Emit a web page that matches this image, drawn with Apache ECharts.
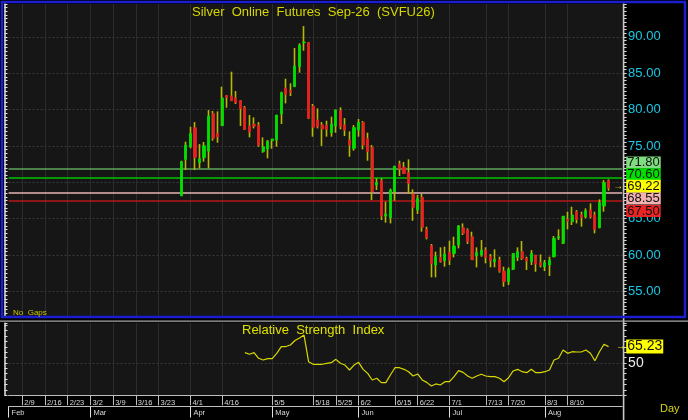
<!DOCTYPE html>
<html><head><meta charset="utf-8">
<script src="https://cdn.jsdelivr.net/npm/echarts@6/dist/echarts.min.js"></script>
<style>html,body{margin:0;padding:0;background:#000;}#c{width:688px;height:420px;}</style>
</head><body><div id="c"></div>
<script>
// ---- data (daily bars, one per slot starting at firstSlot) ----
const openData = [68.16,73.15,74.89,77.50,72.70,73.38,74.30,79.47,76.73,77.78,
81.90,81.86,81.58,81.21,80.25,77.73,77.96,77.83,74.21,74.58,
75.72,75.81,79.38,82.95,82.59,83.14,85.88,89.18,89.18,80.48,
78.56,77.90,77.85,76.82,77.73,79.84,77.87,75.81,74.67,77.19,
78.24,76.00,74.80,69.63,70.22,65.37,65.14,68.71,72.51,72.06,
71.32,68.40,66.20,67.94,63.54,61.30,58.64,59.69,59.24,60.38,
60.24,61.39,63.77,63.45,62.53,59.92,60.01,60.70,59.78,59.10,
59.33,57.81,56.35,58.05,59.69,60.47,59.55,59.10,60.01,58.96,
58.41,58.64,59.78,62.35,61.62,64.91,64.59,65.97,65.51,65.28,
66.19,65.51,63.77,66.74,70.22];
const closeData = [72.83,75.12,76.73,73.43,73.25,75.03,79.11,76.04,76.27,81.58,
81.67,81.21,80.94,80.12,77.28,76.91,77.73,75.12,74.89,75.63,
75.95,79.25,82.31,82.04,82.36,85.98,88.86,89.27,78.79,77.55,
77.64,77.32,77.30,78.01,79.93,77.64,77.19,75.12,77.51,78.24,
75.12,74.21,68.71,69.95,65.37,65.65,68.94,72.24,71.83,71.23,
69.86,66.56,67.80,63.82,62.40,58.87,59.79,59.10,60.15,59.33,
61.25,64.00,62.99,61.85,59.33,60.33,60.70,59.69,59.24,59.42,
57.81,56.35,58.05,60.24,60.47,59.55,59.19,60.24,58.78,58.59,
58.96,59.33,62.30,62.53,65.37,64.68,65.51,64.91,65.19,66.10,
65.28,63.54,67.20,69.95,69.22];
const highData = [72.97,75.58,77.64,78.28,75.26,75.54,79.93,79.80,79.75,83.14,
81.99,85.20,82.54,81.30,80.48,79.25,78.92,78.28,76.18,75.81,
75.99,79.25,82.45,84.24,83.60,88.45,89.09,91.47,89.27,80.76,
80.16,78.28,78.47,79.02,80.00,80.30,78.83,77.00,77.87,78.70,
78.42,76.82,75.12,70.55,70.55,67.34,69.13,72.24,72.97,72.79,
73.16,69.04,68.26,68.40,63.91,61.53,60.47,61.07,61.16,61.98,
62.53,64.14,64.36,63.68,63.22,61.07,62.07,61.07,60.15,60.79,
59.78,58.41,58.32,60.24,61.07,61.94,59.78,60.70,60.01,60.10,
59.33,59.78,62.62,63.54,65.37,65.97,66.65,66.19,65.97,66.42,
67.11,65.97,67.66,70.31,70.41];
const lowData = [68.10,71.69,74.67,71.69,71.92,72.84,71.92,75.72,75.44,77.73,
80.25,81.17,80.76,77.73,77.19,76.18,77.41,74.89,74.07,73.30,
74.62,74.89,78.01,80.85,81.86,83.14,85.06,88.08,78.69,76.27,
77.41,74.99,76.27,76.27,76.82,77.28,76.36,73.52,74.35,76.27,
74.53,72.97,67.57,68.94,64.82,64.46,64.36,67.48,70.87,71.14,
68.40,64.73,65.65,63.22,62.17,56.95,56.95,58.96,58.41,58.64,
59.69,60.93,62.76,61.53,59.33,58.32,59.78,58.87,58.32,58.32,
57.59,55.66,55.89,57.95,59.19,59.33,57.95,58.64,57.72,58.32,
57.81,57.13,59.69,62.07,61.52,63.54,64.14,64.36,63.91,65.05,
65.05,62.99,63.68,65.97,68.85];
// RSI values, starting at the 15th bar
const rsiData = [59.6,58.1,59.6,54.4,52.8,54.0,54.0,59.0,65.2,65.3,
66.7,70.9,73.3,76.0,51.2,48.8,48.8,48.8,49.7,50.3,
53.4,49.7,48.1,43.5,48.1,50.6,44.1,40.3,34.2,35.8,
31.7,31.7,38.8,45.6,45.6,44.1,41.9,37.9,39.8,34.2,
32.0,28.6,30.5,29.5,32.6,32.6,37.3,42.9,41.3,37.9,
35.8,37.9,39.5,37.9,37.3,37.3,35.8,32.6,36.3,42.6,
44.1,41.9,41.0,44.1,41.0,41.0,41.9,43.5,52.8,54.4,
62.1,59.0,60.5,60.2,60.2,62.1,59.0,52.1,60.5,67.4,65.23];
const firstSlot = 38;      // slot of the first bar
const rsiOffset = 14;      // bars before first RSI value
const slotCount = 136;
const weekLabels = ['2/9','2/16','2/23','3/2','3/9','3/16','3/23','4/1','4/16','5/5','5/18','5/25','6/2','6/15','6/22','7/1','7/13','7/20','8/3','8/10'];
const weekSlots  = [3,8,13,18,23,28,33,40,47,58,67,72,77,85,90,97,105,110,118,123];
const monthLabels = ['Feb','Mar','Apr','May','Jun','Jul','Aug'];
const monthSlots  = [0,18,40,58,77,97,118];
const levelValues = [71.80, 70.60, 69.22, 68.55, 67.50];
const lastPrice = 69.22;
const lastRsi = 65.23;
const priceTicks = [55,60,65,70,75,80,85,90];

// ---- build ----
const categories = Array.from({length: slotCount}, (_, i) => String(i));
const wickData = openData.map((o, i) => [firstSlot + i, lowData[i], lowData[i], lowData[i], highData[i]]);
const bodyData = openData.map((o, i) => [firstSlot + i, o, closeData[i], Math.min(o, closeData[i]), Math.max(o, closeData[i])]);
const rsiSeries = rsiData.map((v, i) => [firstSlot + rsiOffset + i, v]);
const weekSet = new Set(weekSlots), monthSet = new Set(monthSlots);

const FONT = "'Liberation Sans', Arial, sans-serif";
const WICK = '#b8b800';
const levelStyles = {
  '71.8':  {line: '#5ea65e', bg: '#80dc80', dy: -6.7},
  '70.6':  {line: '#00c400', bg: '#00e000', dy: -3.8},
  '69.22': {line: 'rgba(0,0,0,0)', bg: '#ffff00', dy: -1.8},
  '68.55': {line: '#e6b4b4', bg: '#f2b2b2', dy: 5.5},
  '67.5':  {line: '#b41818', bg: '#e82424', dy: 10.4}
};
const levelLines = levelValues.map(v => {
  const s = levelStyles[String(v)];
  const isLast = v === lastPrice;
  return {
    yAxis: v,
    lineStyle: {color: s.line, width: 1.6, type: 'solid'},
    label: isLast ? {
      show: true, position: 'end', distance: 4, offset: [-13, s.dy],
      formatter: '{a|\u2192}{b|' + v.toFixed(2) + '}',
      rich: {
        a: {color: '#e8e800', fontSize: 10, width: 13, fontFamily: FONT},
        b: {backgroundColor: s.bg, color: '#101010', fontSize: 13, lineHeight: 12, padding: [0, 1], fontFamily: FONT}
      }
    } : {
      show: true, position: 'end', distance: 4, offset: [0, s.dy],
      formatter: v.toFixed(2), color: '#101010', backgroundColor: s.bg,
      fontSize: 13, lineHeight: 12, padding: [0, 1], fontFamily: FONT
    }
  };
});

const isPriceTick = v => priceTicks.some(t => Math.abs(t - v) < 1e-6);
const priceGridColors = Array.from({length: 10}, (_, i) => i === 7 ? '#3a3a3a' : 'rgba(0,0,0,0)');
const rsiGridColors = Array.from({length: 15}, (_, i) => i === 6 ? '#3a3a3a' : 'rgba(0,0,0,0)');

const gridL = 8.6, gridR = 65.8;
const chart = echarts.init(document.getElementById('c'), null, {renderer: 'canvas'});
chart.setOption({
  animation: false,
  backgroundColor: '#000',
  title: [
    {text: 'Silver  Online  Futures  Sep-26  (SVFU26)', left: 192, top: 5.5, padding: 0,
     textStyle: {color: '#d6d600', fontSize: 13, fontWeight: 'normal', fontFamily: FONT}},
    {text: 'Relative  Strength  Index', left: 242, top: 324, padding: 0,
     textStyle: {color: '#e0e000', fontSize: 13, fontWeight: 'normal', fontFamily: FONT}}
  ],
  grid: [
    {left: gridL, right: gridR, top: 4, bottom: 103},
    {left: gridL, right: gridR, top: 323.2, bottom: 24.75}
  ],
  xAxis: [
    {gridIndex: 0, type: 'category', data: categories, boundaryGap: false,
     axisLine: {show: false}, axisTick: {show: false}, axisLabel: {show: false},
     splitLine: {show: true, interval: i => weekSet.has(i), lineStyle: {color: '#2c2c2c', width: 1}}},
    {gridIndex: 1, type: 'category', data: categories, boundaryGap: false, position: 'bottom',
     axisLine: {show: true, lineStyle: {color: '#bdbdbd', width: 1}},
     axisTick: {show: true, interval: i => weekSet.has(i), length: 10, lineStyle: {color: '#bdbdbd'}},
     axisLabel: {show: true, interval: i => weekSet.has(i), formatter: v => weekLabels[weekSlots.indexOf(Number(v))],
       align: 'left', margin: 4, padding: [0, 0, 0, 2], color: '#d8d8d8', fontSize: 7.5, fontFamily: FONT},
     splitLine: {show: true, interval: i => weekSet.has(i), lineStyle: {color: '#2c2c2c', width: 1}}},
    {gridIndex: 1, type: 'category', data: categories, boundaryGap: false, position: 'bottom', offset: 11.25,
     axisLine: {show: true, lineStyle: {color: '#bdbdbd', width: 1}},
     axisTick: {show: true, interval: i => monthSet.has(i), length: 11, lineStyle: {color: '#e0e0e0'}},
     axisLabel: {show: true, interval: i => monthSet.has(i), formatter: v => monthLabels[monthSlots.indexOf(Number(v))],
       align: 'left', margin: 2, padding: [0, 0, 0, 3], color: '#d8d8d8', fontSize: 7.5, fontFamily: FONT},
     splitLine: {show: false}}
  ],
  yAxis: [
    {gridIndex: 0, type: 'value', position: 'right', offset: 1.4, min: 51.5, max: 94.5, interval: 0.5,
     axisLine: {show: false},
     axisTick: {show: true, length: 3, lineStyle: {color: '#d8d8d8'}},
     axisLabel: {show: true, margin: 4.5, color: '#18c8e4', fontSize: 13, fontFamily: FONT,
       formatter: v => isPriceTick(v) ? v.toFixed(2) : ''},
     splitLine: {show: true, lineStyle: {color: priceGridColors, type: [2, 2], width: 1}}},
    {gridIndex: 0, type: 'value', position: 'left', offset: 4.1, min: 51.5, max: 94.5, interval: 0.5,
     axisLine: {show: true, lineStyle: {color: '#e0e0e0', width: 1.5}},
     axisTick: {show: true, inside: true, length: 3, lineStyle: {color: '#e0e0e0'}},
     axisLabel: {show: false}, splitLine: {show: false}},
    {gridIndex: 1, type: 'value', position: 'right', offset: 1.4, min: 20, max: 87, interval: 5,
     axisLine: {show: false},
     axisTick: {show: true, length: 3, lineStyle: {color: '#d8d8d8'}},
     axisLabel: {show: true, margin: 4.5, color: '#ececec', fontSize: 14, fontFamily: FONT,
       formatter: v => v === 50 ? '50' : ''},
     splitLine: {show: true, lineStyle: {color: rsiGridColors, type: [2, 2], width: 1}}},
    {gridIndex: 1, type: 'value', position: 'left', offset: 4.1, min: 20, max: 87, interval: 5,
     axisLine: {show: true, lineStyle: {color: '#e0e0e0', width: 1.5}},
     axisTick: {show: true, inside: true, length: 3, lineStyle: {color: '#e0e0e0'}},
     axisLabel: {show: false}, splitLine: {show: false}}
  ],
  series: [
    {type: 'candlestick', name: 'wick', xAxisIndex: 0, yAxisIndex: 0, data: wickData,
     encode: {x: 0, y: [1, 2, 3, 4]}, barWidth: 1, silent: true,
     itemStyle: {color: WICK, color0: WICK, borderColor: WICK, borderColor0: WICK, borderColorDoji: WICK, borderWidth: 1.6}},
    {type: 'candlestick', name: 'body', xAxisIndex: 0, yAxisIndex: 0, data: bodyData,
     encode: {x: 0, y: [1, 2, 3, 4]}, barWidth: 2.6, silent: true,
     itemStyle: {color: '#00e000', color0: '#e82020', borderColor: '#00e000', borderColor0: '#e82020', borderColorDoji: '#00e000', borderWidth: 0.8},
     markLine: {silent: true, symbol: ['none', 'none'], z: 1, animation: false, data: levelLines}},
    {type: 'line', name: 'RSI', xAxisIndex: 1, yAxisIndex: 2, data: rsiSeries, encode: {x: 0, y: 1},
     symbol: 'none', showSymbol: false, silent: true, lineStyle: {color: '#d8d800', width: 1.2},
     markLine: {silent: true, symbol: ['none', 'none'], animation: false,
       data: [{yAxis: lastRsi, lineStyle: {color: 'rgba(0,0,0,0)'},
         label: {show: true, position: 'end', distance: 4, offset: [-10, 0],
           formatter: '{a|\u2192}{b|' + lastRsi.toFixed(2) + '}',
           rich: {a: {color: '#e8e800', fontSize: 9, width: 10, fontFamily: FONT},
                  b: {backgroundColor: '#ffff00', color: '#101010', fontSize: 14, lineHeight: 12, padding: [0, 1], fontFamily: FONT}}}}]}}
  ],
  graphic: [
    {type: 'rect', z: -1, silent: true, shape: {x: 4, y: 4, width: 619.6, height: 312}, style: {fill: '#161616'}},
    {type: 'rect', z: -1, silent: true, shape: {x: 4, y: 322.6, width: 619.6, height: 72.6}, style: {fill: '#161616'}},
    {type: 'rect', z: 100, silent: true, shape: {x: 2, y: 2, width: 683, height: 315}, style: {fill: null, stroke: '#1c1cd0', lineWidth: 2.5}},
    {type: 'line', z: 100, silent: true, shape: {x1: 0, y1: 321.2, x2: 688, y2: 321.2}, style: {stroke: '#a8a8a8', lineWidth: 1.2}},
    {type: 'line', z: 99, silent: true, shape: {x1: 623.6, y1: 3.5, x2: 623.6, y2: 420}, style: {stroke: '#c8c8c8', lineWidth: 1.6}},
    {type: 'text', z: 100, silent: true, left: 13, top: 308.5, style: {text: 'No  Gaps', fill: '#c8c800', font: "8px 'Liberation Sans', Arial, sans-serif"}},
    {type: 'text', z: 100, silent: true, left: 660, top: 403, style: {text: 'Day', fill: '#d4d41c', font: "11px 'Liberation Sans', Arial, sans-serif"}}
  ]
});
</script></body></html>
